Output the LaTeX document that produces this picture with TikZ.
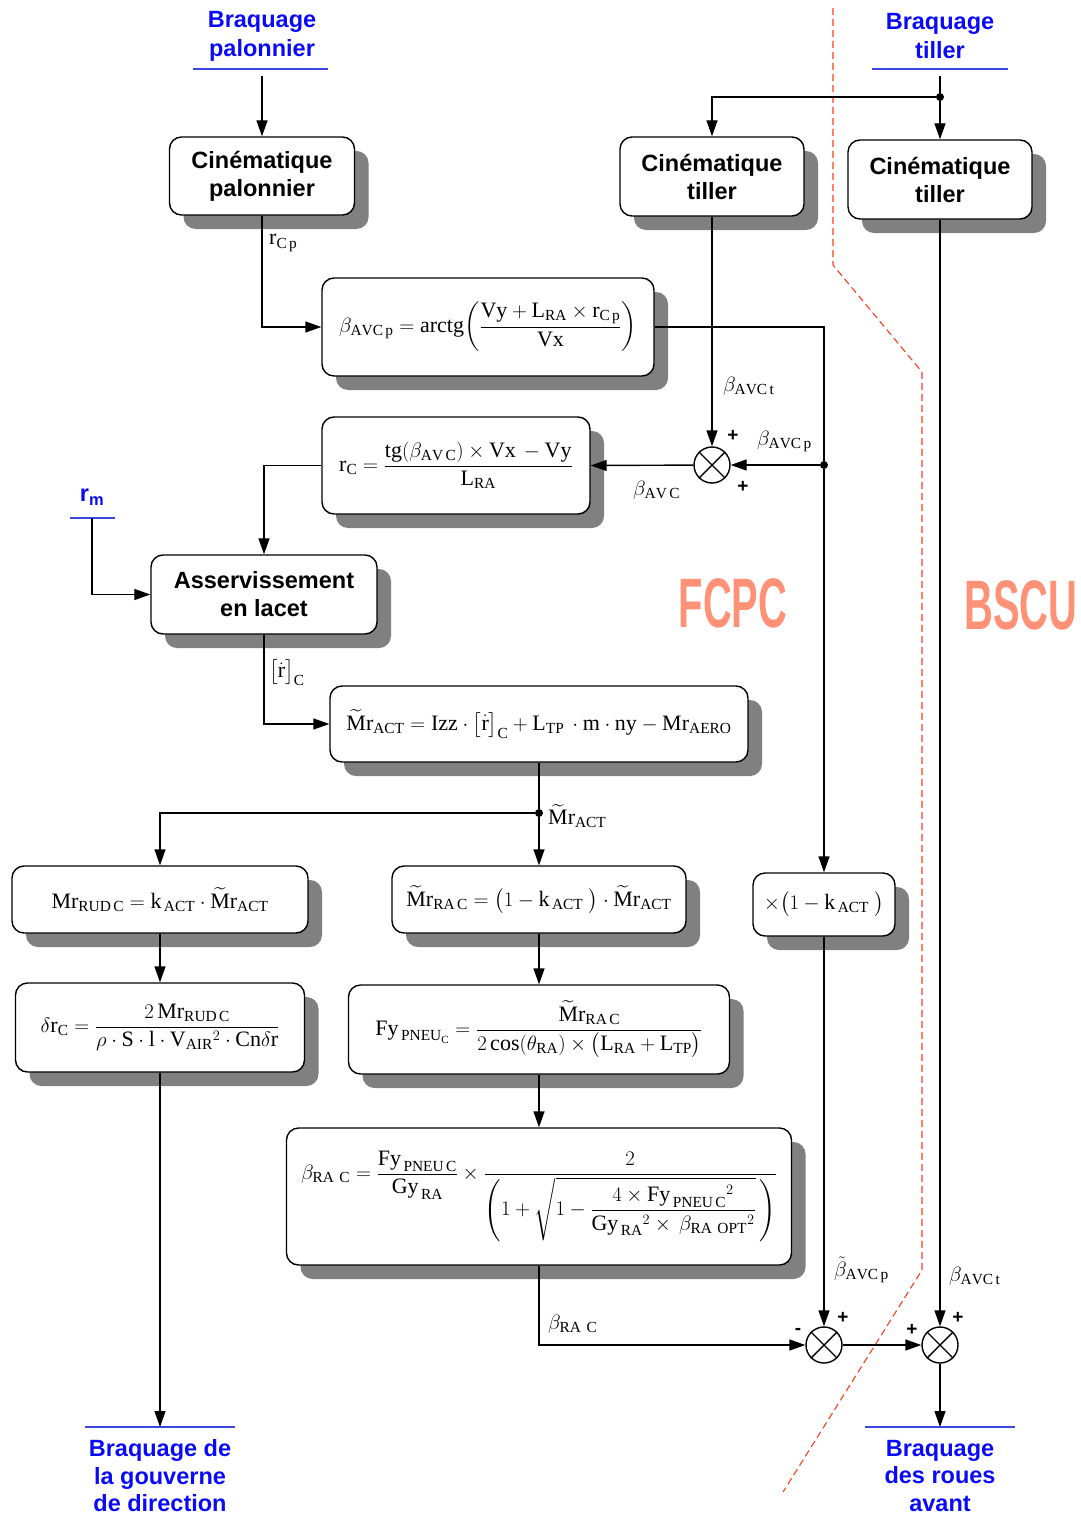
\documentclass[tikz,border=0pt]{standalone}
\usepackage{amsmath}
\usepackage{fontspec}
\setmainfont{Liberation Serif}
\setsansfont{Liberation Sans}
\usetikzlibrary{arrows.meta,shadows,calc}
\definecolor{tblue}{RGB}{10,10,250}
\definecolor{lblue}{RGB}{60,70,225}
\definecolor{dred}{RGB}{255,60,30}
\definecolor{salmon}{RGB}{255,145,118}
\definecolor{shad}{RGB}{128,128,128}
\newcommand{\rmm}[1]{\mathrm{#1}}
\tikzset{
  box/.style={draw, line width=1.4pt, rounded corners=12pt, fill=white, inner sep=0pt, align=center,
    drop shadow={shadow xshift=14pt, shadow yshift=-14pt, fill=shad, opacity=1},
    font=\fontsize{22}{26}\selectfont},
  sbox/.style={box, font=\sffamily\bfseries\fontsize{23.5}{28}\selectfont},
  ttl/.style={text=tblue, font=\sffamily\bfseries\fontsize{23.5}{28.5}\selectfont, align=center},
  uline/.style={draw=lblue, line width=1.4pt},
  ln/.style={line width=1.4pt},
  arr/.style={line width=1.4pt, -{Triangle[length=16pt,width=11pt]}},
  sumj/.style={circle, draw, line width=1.4pt, minimum size=36pt, inner sep=0pt, fill=white},
  dotj/.style={circle, fill, inner sep=0pt, minimum size=8pt},
  lab/.style={font=\fontsize{22}{26}\selectfont, inner sep=1pt},
  sgn/.style={font=\sffamily\bfseries\fontsize{19}{20}\selectfont, inner sep=0pt},
  big/.style={text=salmon, font=\sffamily\bfseries\fontsize{70}{70}\selectfont, xscale=0.57}
}
\begin{document}
\begin{tikzpicture}[x=1pt,y=-1pt]
\useasboundingbox (0,0) rectangle (1080,1517);
% frontier
\draw[dred, line width=1.1pt, dash pattern=on 7pt off 4pt] (833,8) -- (833,265) -- (922,372) -- (922,1270) -- (783,1492);
\node[big] (fcpc) at (733,603) {FCPC};
\node[big] (bscu) at (1021,605) {BSCU};
% titles
\node[ttl, font=\sffamily\bfseries\fontsize{23.5}{29}\selectfont] (tp) at (262,36) {Braquage\\palonnier};
\draw[uline] (193,69) -- (328,69);
\coordinate (tpu) at (262,76);
\node[ttl, font=\sffamily\bfseries\fontsize{23.5}{29}\selectfont] (tt) at (940,36) {Braquage\\tiller};
\draw[uline] (872,69) -- (1008,69);
\coordinate (ttu) at (940,76);
\node[text=tblue, font=\sffamily\bfseries\fontsize{23.5}{28}\selectfont, inner sep=0pt] (rm) at (92,497) {r\textsubscript{m}};
\draw[uline] (70,518) -- (115,518);
\coordinate (rmu) at (92,518);
\node[ttl, font=\sffamily\bfseries\fontsize{23.5}{27.5}\selectfont] (tg) at (160,1476) {Braquage de\\la gouverne\\de direction};
\draw[uline] (85,1427) -- (235,1427);
\coordinate (tgu) at (160,1427);
\node[ttl, font=\sffamily\bfseries\fontsize{23.5}{27.5}\selectfont] (tr) at (940,1476) {Braquage\\des roues\\avant};
\draw[uline] (865,1427) -- (1015,1427);
\coordinate (tru) at (940,1427);
% boxes
\node[sbox, minimum width=185pt, minimum height=78pt] (cp) at (262,176) {Cinématique\\palonnier};
\node[sbox, minimum width=184pt, minimum height=79pt] (ctm) at (712,176.5) {Cinématique\\tiller};
\node[sbox, minimum width=184pt, minimum height=79pt] (ctr) at (940,179.5) {Cinématique\\tiller};
\node[box, minimum width=332pt, minimum height=98pt] (bp) at (488,327)
  {$\displaystyle \beta_{\rmm{AVC\,p}} = \rmm{arctg}\!\left(\frac{\rmm{Vy}+\rmm{L}_{\rmm{RA}}\times \rmm{r}_{\rmm{C\,p}}}{\rmm{Vx}}\right)$};
\node[box, minimum width=268pt, minimum height=97pt] (rc) at (456,465.5)
  {$\displaystyle \rmm{r}_{\rmm{C}} = \frac{\rmm{tg}(\beta_{\rmm{AV\,C}})\times \rmm{Vx}\,-\rmm{Vy}}{\rmm{L}_{\rmm{RA}}}$};
\node[sbox, minimum width=226pt, minimum height=79pt] (as) at (264,594.5) {Asservissement\\en lacet};
\node[box, minimum width=418pt, minimum height=76pt] (ma) at (539,724)
  {$\widetilde{\rmm{M}}\rmm{r}_{\rmm{ACT}} = \rmm{Izz}\cdot\bigl[\dot{\rmm{r}}\bigr]_{\rmm{C}} + \rmm{L}_{\rmm{TP}}\,\cdot\rmm{m}\cdot\rmm{ny} - \rmm{Mr}_{\rmm{AERO}}$};
\node[box, minimum width=296pt, minimum height=67pt] (mrud) at (160,899.5)
  {$\rmm{Mr}_{\rmm{RUD\,C}} = \rmm{k}_{\,\rmm{ACT}}\cdot\widetilde{\rmm{M}}\rmm{r}_{\rmm{ACT}}$};
\node[box, minimum width=294pt, minimum height=67pt] (mrac) at (539,899.5)
  {$\widetilde{\rmm{M}}\rmm{r}_{\rmm{RA\,C}} = \bigl(1-\rmm{k}_{\,\rmm{ACT}}\ \bigr)\cdot\widetilde{\rmm{M}}\rmm{r}_{\rmm{ACT}}$};
\node[box, minimum width=142pt, minimum height=63pt] (kb) at (824,904.5)
  {$\times\bigl(1-\rmm{k}_{\,\rmm{ACT}}\ \bigr)$};
\node[box, minimum width=289pt, minimum height=89pt] (dr) at (160,1027.5)
  {$\displaystyle \delta\rmm{r}_{\rmm{C}} = \frac{2\,\rmm{Mr}_{\rmm{RUD\,C}}}{\rho\cdot\rmm{S}\cdot\rmm{l}\cdot\rmm{V}_{\rmm{AIR}}{}^{2}\cdot\rmm{Cn}\delta\rmm{r}}$};
\node[box, minimum width=381pt, minimum height=89pt] (fy) at (539,1029.5)
  {$\displaystyle \rmm{Fy}_{\,\rmm{PNEU}_{\rmm{C}}} = \frac{\widetilde{\rmm{M}}\rmm{r}_{\rmm{RA\,C}}}{2\cos(\theta_{\rmm{RA}})\times\bigl(\rmm{L}_{\rmm{RA}}+\rmm{L}_{\rmm{TP}}\bigr)}$};
\node[box, minimum width=505pt, minimum height=137pt] (bra) at (539,1196.5)
  {$\displaystyle \beta_{\rmm{RA\ C}} = \frac{\rmm{Fy}_{\,\rmm{PNEU\,C}}}{\rmm{Gy}_{\,\rmm{RA}}}\times\frac{2}{\left(1+\sqrt{1-\dfrac{4\times\rmm{Fy}_{\,\rmm{PNEU\,C}}{}^{2}}{\rmm{Gy}_{\,\rmm{RA}}{}^{2}\times\,\beta_{\rmm{RA\ OPT}}{}^{2}}}\,\right)}$};
% summing junctions and dots
\node[sumj] (s0) at (712,465) {};
\node[sumj] (s1) at (824,1345) {};
\node[sumj] (s2) at (940,1345) {};
\foreach \s in {s0,s1,s2}{
  \draw[ln] (\s.north east) -- (\s.south west) (\s.north west) -- (\s.south east);
}
\node[dotj] (jt) at (940,97) {};
\node[dotj] (j1) at (824,465) {};
\node[dotj] (jm) at (539,813) {};
% connectors
\draw[arr] (tpu) -- (cp.north);
\draw[arr] (cp.south) |- (bp.west);
\draw[ln] (ttu) -- (jt);
\draw[arr] (jt) -| (ctm.north);
\draw[arr] (jt) -- (ctr.north);
\draw[ln] (bp.east) -| (j1);
\draw[arr] (j1) -- (s0);
\draw[arr] (ctm.south) -- (s0);
\draw[arr] (s0) -- (rc.east);
\draw[arr] (rc.west) -| (as.north);
\draw[arr] (rmu) |- (as.west);
\draw[arr] (as.south) |- (ma.west);
\draw[ln] (ma.south) -- (jm);
\draw[arr] (jm) -- (mrac.north);
\draw[arr] (jm) -| (mrud.north);
\draw[arr] (j1) -- (kb.north);
\draw[arr] (mrud.south) -- (dr.north);
\draw[arr] (dr.south) -- (tgu);
\draw[arr] (mrac.south) -- (fy.north);
\draw[arr] (fy.south) -- (bra.north);
\draw[arr] (bra.south) |- (s1.west);
\draw[arr] (kb.south) -- (s1.north);
\draw[arr] (s1) -- (s2);
\draw[arr] (ctr.south) -- (s2.north);
\draw[arr] (s2.south) -- (tru);
% labels
\node[lab, anchor=west] (l1) at (268,243) {$\rmm{r}_{\rmm{C\,p}}$};
\node[lab, anchor=west] (l2) at (722,386) {$\beta_{\rmm{AVC\,t}}$};
\node[lab, anchor=west] (l3) at (756,441) {$\beta_{\rmm{AVC\,p}}$};
\node[lab, anchor=west] (l4) at (632,490) {$\beta_{\rmm{AV\,C}}$};
\node[lab, anchor=west] (l5) at (268,673) {$\bigl[\dot{\rmm{r}}\bigr]_{\rmm{C}}$};
\node[lab, anchor=west] (l6) at (547,816) {$\widetilde{\rmm{M}}\rmm{r}_{\rmm{ACT}}$};
\node[lab, anchor=west] (l7) at (547,1324) {$\beta_{\rmm{RA\ C}}$};
\node[lab, anchor=west] (l8) at (833,1270) {$\tilde{\beta}_{\rmm{AVC\,p}}$};
\node[lab, anchor=west] (l9) at (948,1276) {$\beta_{\rmm{AVC\,t}}$};
\node[sgn] (p1) at (733,436) {+};
\node[sgn] (p2) at (743,487) {+};
\node[sgn] (p3) at (843,1318) {+};
\node[sgn] (p4) at (798,1331) {-};
\node[sgn] (p5) at (912,1330) {+};
\node[sgn] (p6) at (958,1318) {+};
\end{tikzpicture}
\end{document}
